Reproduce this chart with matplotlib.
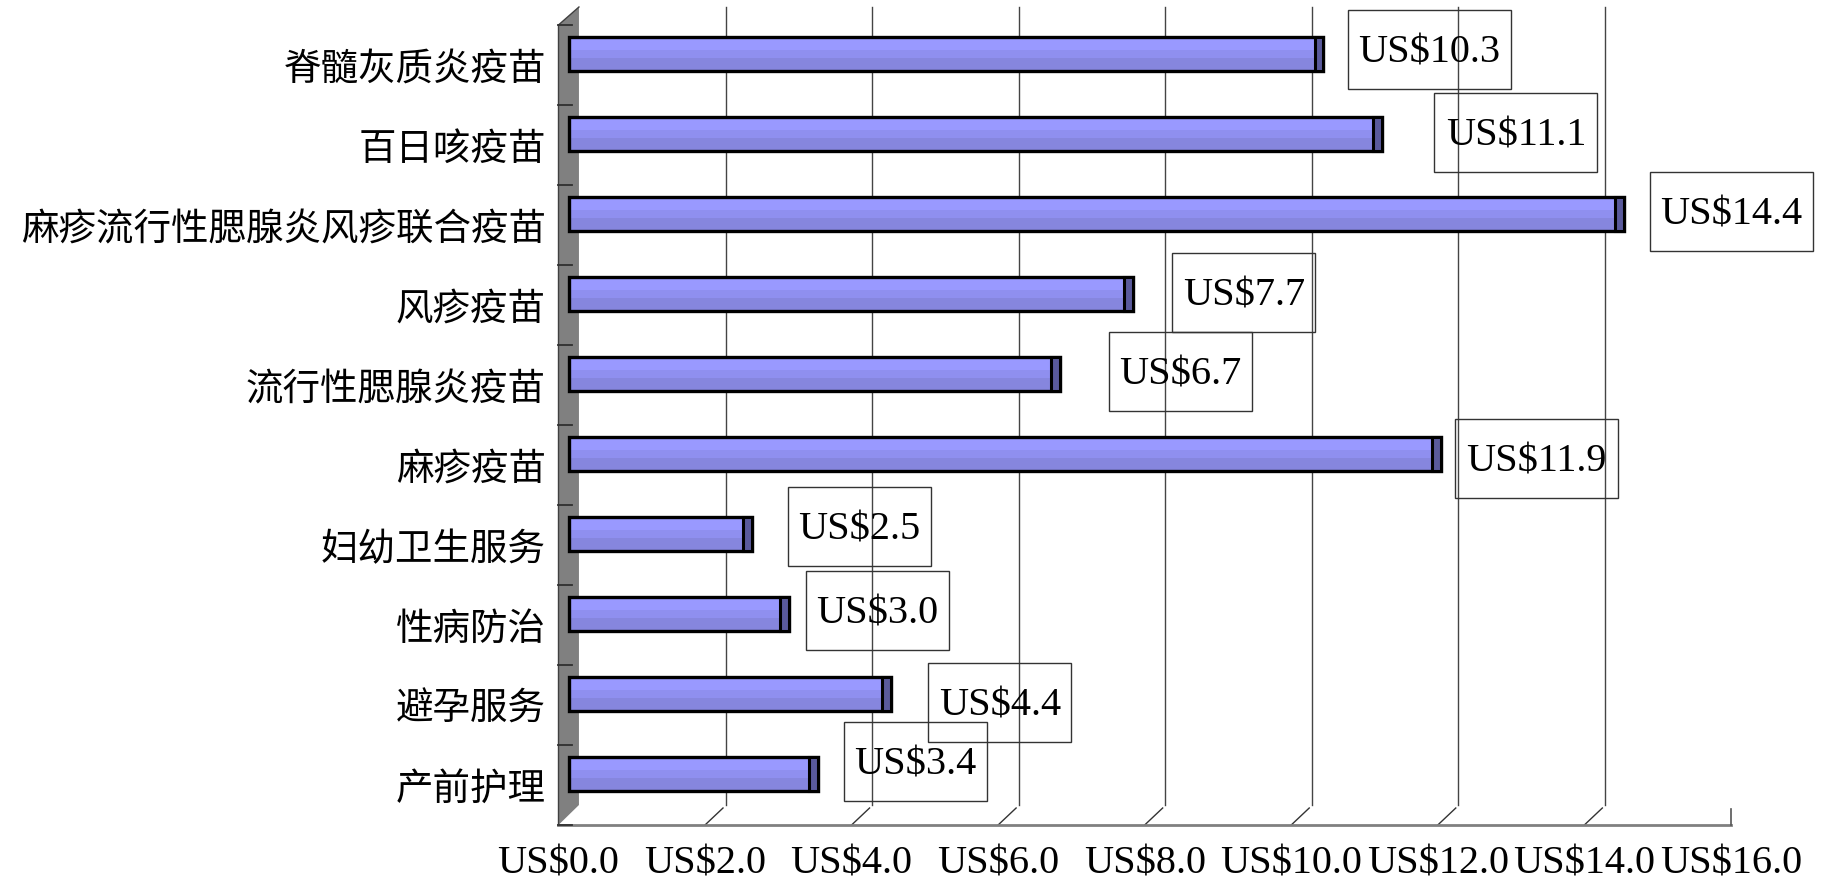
import matplotlib
matplotlib.use('Agg')
import matplotlib.pyplot as plt
import matplotlib.transforms as mtransforms

# 数据
categories = ['脊髓灰质炎疫苗', '百日咳疫苗', '麻疹流行性腮腺炎风疹联合疫苗', '风疹疫苗',
              '流行性腮腺炎疫苗', '麻疹疫苗', '妇幼卫生服务', '性病防治', '避孕服务', '产前护理']
values = [10.3, 11.1, 14.4, 7.7, 6.7, 11.9, 2.5, 3.0, 4.4, 3.4]
x_ticks = [0, 2, 4, 6, 8, 10, 12, 14, 16]
x_tick_labels = ['US$%.1f' % t for t in x_ticks]
value_labels = ['US$%.1f' % v for v in values]

# where Excel left each data label (pixels from the bar tip, up = positive)
label_offsets = [(116, 15.5), (144, 12.5), (118, 13.5), (121, 13), (131, 13.5),
                 (106, 6.5), (118, 18.5), (99, 15), (119, 3), (108, 23.5)]

W, H = 1825, 884
DX, DY = 20.5, 20          # depth of the fake 3D box, pixels
latin = 'Liberation Serif'
cjk = 'Noto Sans CJK SC'

fig = plt.figure(figsize=(W / 100, H / 100), dpi=100)
ax = fig.add_axes([558.45 / W, 59 / H, 1172.45 / W, 800 / H])
ax.set_xlim(0, 16)
ax.set_ylim(len(categories) - 0.5, -0.5)
ax.patch.set_visible(False)
for s in ax.spines.values():
    s.set_visible(False)

ypos = list(range(len(categories)))
ax.set_yticks(ypos, categories, fontfamily=cjk, fontsize=27)
ax.set_xticks(x_ticks, x_tick_labels, fontfamily=latin, fontsize=29)
ax.tick_params(axis='y', length=0, pad=9)
ax.tick_params(axis='x', length=0, pad=15)

ident = mtransforms.IdentityTransform()


def px(x, y):
    return ax.transData.transform((x, y))


def seg(p, q, **kw):
    ax.plot([p[0], q[0]], [p[1], q[1]], transform=ident, clip_on=False, **kw)


ybot, ytop = len(categories) - 0.5, -0.5

# side wall
fb, ft = px(0, ybot), px(0, ytop)
wall = plt.Polygon([fb, ft, (ft[0] + DX, ft[1] + DY - 2), (fb[0] + DX, fb[1] + DY)],
                   closed=True, facecolor='#808080', edgecolor='none',
                   transform=ident, clip_on=False, zorder=1)
ax.add_patch(wall)
seg(fb, ft, color='#404040', lw=1, zorder=2)
seg(ft, (ft[0] + DX, ft[1] + DY - 2), color='#404040', lw=1, zorder=2)

# back gridlines and floor slashes
for t in x_ticks[1:-1]:
    b, tp = px(t, ybot), px(t, ytop)
    seg((b[0] + DX, b[1] + DY), (tp[0] + DX, tp[1] + DY - 2), color='#444444', lw=1, zorder=1)
    seg(b, (b[0] + 18, b[1] + 17), color='#333333', lw=1, zorder=2)

# floor front edge
seg(px(0, ybot), px(16, ybot), color='#808080', lw=2, zorder=2)
e = px(16, ybot)
seg(e, (e[0], e[1] + 16), color='#555555', lw=1.2, zorder=2)

# category ticks on the wall
for k in range(len(categories) + 1):
    p = px(0, ytop + k)
    seg(p, (p[0] + 14, p[1]), color='#303030', lw=1.3, zorder=3)

# bars, drawn at mid depth
bar_tr = ax.transData + mtransforms.ScaledTranslation(DX / 2 / 100, 11 / 100, fig.dpi_scale_trans)
h = 0.425
bands = [(0.0, 0.38, '#9999FF'), (0.38, 0.62, '#8F8FEF'), (0.62, 1.0, '#8686DE')]
for f0, f1, c in bands:
    yc = [y - h / 2 + h * (f0 + f1) / 2 for y in ypos]
    ax.barh(yc, values, height=h * (f1 - f0), color=c, edgecolor='none',
            transform=bar_tr, zorder=4)
ax.barh(ypos, values, height=h, fill=False, edgecolor='black', linewidth=2.4,
        transform=bar_tr, zorder=5)
cap = 0.12
ax.barh(ypos, [cap] * len(values), left=[v - cap for v in values], height=h,
        color='#5A5A9C', edgecolor='black', linewidth=2.2, transform=bar_tr, zorder=6)

# data labels in fixed-size frames
box_h = 79
for y, v, txt, (dx, dy) in zip(ypos, values, value_labels, label_offsets):
    cx, cy = px(v, y)
    cx, cy = cx + dx, cy + dy
    box_w = 20.3 * len(txt) + 21
    ax.add_patch(plt.Rectangle((cx - box_w / 2, cy - box_h / 2), box_w, box_h,
                               fill=False, edgecolor='#333333', lw=1,
                               transform=ident, clip_on=False, zorder=7))
    ax.text(cx, cy - 13, txt, transform=ident, ha='center', va='baseline',
            fontfamily=latin, fontsize=29, zorder=8)

fig.savefig('out.png', dpi=100)
